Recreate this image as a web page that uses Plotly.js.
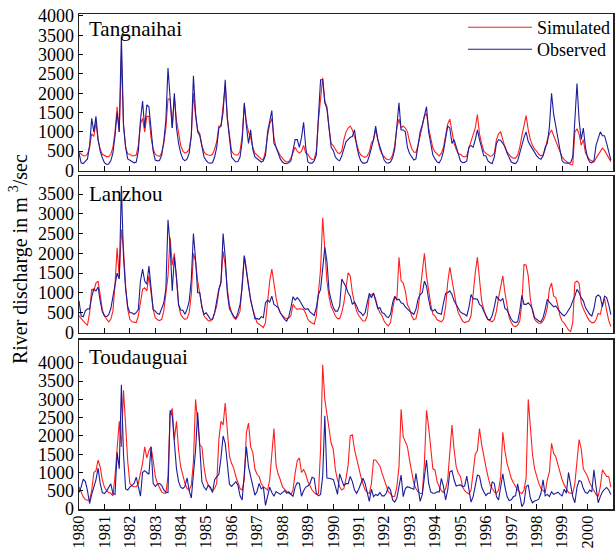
<!DOCTYPE html>
<html>
<head>
<meta charset="utf-8">
<script src="https://cdn.plot.ly/plotly-3.0.1.min.js"></script>
<style>html,body{margin:0;padding:0;background:#fff;}#chart{width:615px;height:548px;}</style>
</head>
<body>
<div id="chart"></div>
<script>
// ---------- DATA (monthly river discharge, m^3/s, Jan 1980 - Dec 2000) ----------
const startYear = 1980;
const yearLabels = ["1980","1981","1982","1983","1984","1985","1986","1987","1988","1989","1990",
                    "1991","1992","1993","1994","1995","1996","1997","1998","1999","2000"];
const stations = ["Tangnaihai", "Lanzhou", "Toudauguai"];
const seriesNames = ["Simulated", "Observed"];

const tangObs = [
 450,200,180,230,300,650,1350,1000,1400,800,500,330,
 200,160,170,250,450,900,1500,1000,3500,1200,600,300,
 270,220,200,220,500,1300,1800,1100,1700,1650,1000,500,
 270,250,260,400,750,1300,2650,1900,1100,2000,1100,700,
 450,300,250,300,450,900,2450,1500,1000,900,600,350,
 260,200,190,200,350,600,1100,1150,1500,2350,1350,800,
 350,280,220,230,350,750,1750,1150,700,1050,550,350,
 300,250,220,250,400,1000,1300,1550,700,600,450,300,
 220,180,180,200,250,500,800,800,600,850,1250,600,
 220,190,190,250,400,1400,2350,2350,1750,1600,1000,600,
 520,350,280,250,380,600,740,800,860,880,1050,650,
 400,250,190,190,220,380,620,800,1150,800,620,450,
 270,200,190,220,330,550,1100,1750,1050,1050,1000,600,
 440,350,270,300,650,1000,1180,1400,1650,1000,650,400,
 300,220,200,300,500,850,1150,1100,700,800,600,400,
 250,200,210,250,600,650,600,800,1050,800,550,380,
 380,250,200,180,350,700,800,780,700,620,450,330,
 220,190,180,250,450,700,850,1000,750,650,550,450,
 380,320,290,380,600,700,1135,2000,1450,1150,800,530,
 250,200,190,190,200,350,1200,2250,1300,800,1100,600,
 330,220,200,250,650,850,1000,900,900,700,450,270
];
const tangSim = [
 480,420,380,380,420,600,950,880,1250,800,550,420,
 380,360,360,420,600,1000,1650,1000,2950,1150,600,430,
 420,380,380,400,650,1200,1350,1000,1400,1400,850,550,
 420,380,370,450,700,1100,1850,1850,1100,1900,1300,1000,
 650,500,450,480,550,900,2000,1400,1050,950,650,480,
 420,400,390,420,550,750,1150,1150,1700,2200,1350,900,
 500,430,400,400,500,900,1700,1250,1000,850,600,450,
 400,350,300,280,500,900,1200,1350,850,600,480,380,
 320,250,220,230,320,450,600,500,450,500,650,450,
 420,330,280,300,500,1300,1900,2400,1800,1650,1100,700,
 640,530,460,440,500,800,1000,1100,1150,1050,900,700,
 500,400,360,340,380,480,720,800,1050,800,550,420,
 350,300,280,300,400,650,1100,1330,1100,1150,1100,1000,
 750,570,480,470,650,950,1150,1400,1480,1100,800,580,
 480,420,380,450,600,900,1200,1330,950,700,550,430,
 420,370,350,380,580,750,950,1100,1450,950,700,500,
 450,400,370,380,450,800,950,1000,800,600,480,400,
 350,320,320,400,600,900,1200,1420,1050,800,650,550,
 500,420,380,400,550,800,950,1050,900,750,600,450,
 350,280,230,190,150,150,1000,1080,950,650,800,450,
 350,280,250,220,320,400,500,580,520,420,300,230
];
const lanObs = [
 800,420,400,550,600,590,900,1100,1050,1150,800,520,
 420,400,450,600,900,1170,1500,1350,3700,1900,1100,650,
 500,500,460,500,585,1300,1600,1300,1220,1680,1100,580,
 540,480,460,585,750,1100,2850,2200,1050,1900,1400,700,
 570,560,460,585,795,1340,2500,1850,1005,1005,630,460,
 500,420,333,333,500,800,1100,1250,2500,1900,1000,600,
 500,417,350,500,710,1130,1930,1510,1170,840,600,350,
 350,333,400,375,750,820,770,920,710,670,630,500,
 417,333,290,400,630,905,820,880,820,710,630,585,
 600,520,480,430,630,960,1090,1595,2150,1800,1050,820,
 630,540,540,670,1350,1250,1150,1005,920,710,770,670,
 540,500,430,500,710,990,880,990,800,600,630,500,
 480,400,375,460,750,920,820,840,750,730,650,585,
 540,500,460,585,840,960,1005,1300,1170,840,585,540,
 585,500,480,460,750,990,1005,1050,960,800,710,630,
 520,480,460,417,630,960,850,850,840,710,670,540,
 417,333,320,430,650,920,840,800,860,610,570,430,
 333,270,250,270,540,940,710,710,750,690,585,375,
 320,290,270,375,585,840,770,710,650,670,585,520,
 460,417,480,570,650,800,920,1090,1005,880,800,630,
 540,460,417,600,900,950,900,650,920,880,700,450
];
const lanSim = [
 420,350,280,230,180,500,1100,1050,1250,1300,950,580,
 417,333,270,333,540,1210,2140,1400,2600,2100,1170,585,
 333,270,250,250,417,800,1090,1130,1050,1430,1005,585,
 375,320,300,333,540,1050,1430,2400,1700,2000,1300,700,
 460,375,333,350,500,960,2000,1800,1300,950,670,417,
 350,300,290,333,500,670,1050,1300,2050,1700,1100,700,
 500,375,333,417,540,1170,1950,1600,1170,800,585,417,
 250,210,165,125,250,840,1300,1600,1170,880,630,500,
 430,375,350,365,430,710,630,585,600,600,585,480,
 333,270,240,210,417,920,1600,2900,2100,1300,900,650,
 540,417,350,350,500,750,1130,1510,1430,1005,750,540,
 430,350,290,290,417,920,960,990,840,630,500,417,
 290,210,165,250,585,880,840,1900,1300,1250,1050,700,
 600,417,320,350,585,1090,1600,2000,1430,1050,710,460,
 417,320,290,270,333,650,1260,1650,1340,1005,710,500,
 375,290,250,270,290,417,1005,1510,1900,1260,800,585,
 417,320,290,270,333,540,880,1170,1430,1005,670,375,
 250,165,150,185,290,750,1720,1700,1430,840,540,333,
 270,235,235,290,417,630,1100,1250,920,880,670,417,
 290,235,150,65,20,250,1260,1300,1240,750,600,480,
 375,290,250,250,320,480,460,700,860,550,300,150
];
const touObs = [
 450,600,820,750,500,150,400,600,800,1120,700,450,
 420,490,610,690,430,400,1550,1100,3400,1500,550,520,
 600,640,700,870,600,350,1000,1050,1000,950,1700,700,
 620,680,700,650,520,460,450,2700,2550,1750,1100,750,
 600,560,620,850,500,300,900,1600,2650,1500,750,600,
 520,650,600,450,800,880,950,1400,2000,1800,1150,680,
 620,700,750,650,360,250,1000,1700,1150,880,600,380,
 480,700,550,600,100,400,600,450,350,480,430,400,
 450,500,430,470,400,350,600,720,700,350,500,600,
 630,700,870,840,430,360,400,900,2550,850,840,820,
 810,610,400,960,800,630,700,690,890,750,520,430,
 540,700,840,700,430,210,540,340,400,370,450,360,
 360,430,610,520,250,190,300,610,930,340,560,610,
 590,560,540,977,540,210,400,800,1340,700,470,430,
 430,470,470,840,610,250,520,1020,1050,800,630,650,
 660,610,630,900,520,190,340,690,930,900,610,470,
 370,430,430,750,700,340,250,610,960,610,340,230,
 250,340,360,690,340,64,170,610,660,300,170,220,
 240,270,430,800,360,400,340,470,400,430,460,400,
 360,540,430,1000,610,340,170,590,780,750,560,450,
 430,520,470,1070,610,170,340,470,540,590,520,400
];
const touSim = [
 600,450,330,260,240,250,500,1000,1050,1340,1150,800,
 600,500,450,430,360,900,1700,2400,1700,3250,2300,1300,
 700,630,610,610,700,980,1250,1700,1400,1600,1700,1340,
 890,700,560,470,430,430,900,2600,2750,1900,2400,1600,
 1150,880,700,560,520,650,1300,3000,2400,1750,1700,1150,
 800,650,560,500,560,700,1900,2400,2300,2900,2150,1450,
 1250,1120,890,700,560,520,800,2100,2350,1700,1550,1100,
 950,890,700,610,560,520,800,1600,2200,1200,950,800,
 610,540,470,430,400,520,980,1320,1400,1000,1080,950,
 750,610,520,450,400,420,1630,3950,3000,2600,2160,1800,
 1630,1070,800,610,520,560,840,1200,2000,2030,1630,1360,
 1070,890,690,520,460,420,700,1340,1340,1270,1180,980,
 800,660,470,420,340,350,610,1160,2730,1980,1850,1700,
 1340,980,700,560,470,430,420,1250,2700,2240,1630,1100,
 1070,750,610,500,450,560,800,1500,2300,1630,1160,980,
 890,610,500,450,410,520,980,1500,1590,2200,1770,1400,
 1160,890,660,560,470,430,520,890,2100,1590,1250,1050,
 840,720,610,520,460,420,520,850,3000,2160,1500,1100,
 890,700,560,500,450,800,1020,1800,1525,1430,1200,980,
 800,660,540,450,430,430,700,1340,1900,1650,1100,1000,
 890,720,610,470,400,340,610,1070,980,890,890,600
];

// ---------- BUILD ----------
const months = tangObs.map((_, i) => startYear + i / 12);
const RED = '#ff1e1e', BLUE = '#1c1c9a';
const serif = 'Liberation Serif, Times New Roman, serif';

const panels = [
  {sim: tangSim, obs: tangObs, xa: 'x3', ya: 'y3', legend: true},
  {sim: lanSim,  obs: lanObs,  xa: 'x2', ya: 'y2', legend: false},
  {sim: touSim,  obs: touObs,  xa: 'x',  ya: 'y',  legend: false}
];
const traces = [];
panels.forEach(p => {
  traces.push({x: months, y: p.sim, xaxis: p.xa, yaxis: p.ya, type: 'scatter', mode: 'lines',
    name: seriesNames[0], showlegend: p.legend, legend: 'legend',
    line: {color: RED, width: 1.1}});
  traces.push({x: months, y: p.obs, xaxis: p.xa, yaxis: p.ya, type: 'scatter', mode: 'lines',
    name: seriesNames[1], showlegend: p.legend, legend: 'legend2',
    line: {color: BLUE, width: 1.1}});
});

const tickYears = yearLabels.map(Number);
function xax(anchor, labels, lw) {
  return {
    anchor: anchor, domain: [0, 1], range: [1980, 2001],
    tickmode: 'array', tickvals: tickYears, ticktext: yearLabels,
    showticklabels: labels, tickangle: -90, ticklabelstandoff: -2,
    ticks: 'inside', ticklen: 5, tickwidth: 1, tickcolor: '#000',
    showline: true, linecolor: '#222', linewidth: lw, mirror: true,
    showgrid: false, zeroline: false,
    tickfont: {family: serif, size: 16.5, color: '#000'}
  };
}
function yax(anchor, dom, top, maxTick) {
  const vals = [];
  for (let v = 0; v <= maxTick; v += 500) vals.push(v);
  return {
    anchor: anchor, domain: dom, range: [0, top],
    tickmode: 'array', tickvals: vals, ticktext: vals.map(String),
    ticks: 'inside', ticklen: 4, tickwidth: 1, tickcolor: '#000',
    showline: true, linecolor: '#222', linewidth: 1.5, mirror: true,
    showgrid: false, zeroline: false,
    tickfont: {family: serif, size: 18, color: '#000'}
  };
}

const H = 495; // plot-area height in px (548 - 14 - 39)
const py = px => (509 - px) / H;
const W = 535;
const pxx = px => (px - 79) / W;
function legendAt(topPx) {
  return {x: pxx(463), y: py(topPx), xanchor: 'left', yanchor: 'top',
          bgcolor: 'rgba(0,0,0,0)', font: {family: serif, size: 18, color: '#000'},
          tracegroupgap: 0, itemwidth: 64};
}

const layout = {
  width: 615, height: 548,
  margin: {l: 79, r: 1, t: 14, b: 39},
  paper_bgcolor: '#fff', plot_bgcolor: '#fff',
  showlegend: true,
  legend: legendAt(9),
  legend2: legendAt(31),
  xaxis: xax('y', true, 2),
  xaxis2: xax('y2', false, 1.5),
  xaxis3: xax('y3', false, 1.5),
  yaxis: yax('x', [py(509), py(339.5)], 4640, 4000),
  yaxis2: yax('x2', [py(332.5), py(176)], 3955, 3500),
  yaxis3: yax('x3', [py(170.5), py(14)], 4050, 4000),
  annotations: [
    {text: stations[0], xref: 'paper', yref: 'paper', x: pxx(87), y: py(29.5), xanchor: 'left', yanchor: 'middle',
     showarrow: false, font: {family: serif, size: 21, color: '#000'}},
    {text: stations[1], xref: 'paper', yref: 'paper', x: pxx(87), y: py(193.5), xanchor: 'left', yanchor: 'middle',
     showarrow: false, font: {family: serif, size: 21, color: '#000'}},
    {text: stations[2], xref: 'paper', yref: 'paper', x: pxx(87), y: py(357), xanchor: 'left', yanchor: 'middle',
     showarrow: false, font: {family: serif, size: 21, color: '#000'}},
    {text: 'River discharge in m <sup>3</sup>/sec', xref: 'paper', yref: 'paper', x: pxx(18), y: py(259),
     xanchor: 'center', yanchor: 'middle', textangle: -90, showarrow: false,
     font: {family: serif, size: 20, color: '#000'}}
  ]
};

Plotly.newPlot('chart', traces, layout, {displayModeBar: false, staticPlot: true});
</script>
</body>
</html>
